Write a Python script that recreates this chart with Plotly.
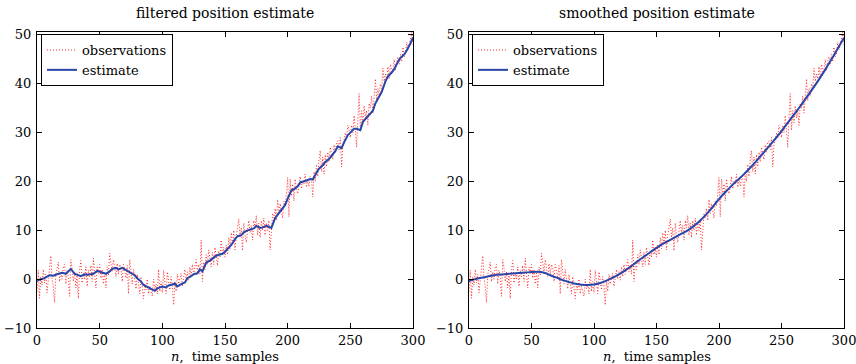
import plotly.graph_objects as go

# ---------------- data ----------------
obs = [
    -2.5, 1.8, -3.9, 0.5, -1.2, 2.0, -0.8, 1.0, -2.8, 0.3,
    2.5, 4.8, 0.2, -1.5, -4.8, 1.0, 2.0, 3.5, -0.5, 1.5,
    0.0, 2.5, 3.0, -1.0, 1.8, 0.5, -3.5, 4.0, 2.2, -0.5,
    1.5, -1.8, 0.8, -4.0, 2.0, 3.8, -0.8, 1.2, 0.0, 2.5,
    -1.5, 1.8, 0.5, 2.8, -0.5, 4.3, 1.0, -1.8, 2.5, 1.2,
    3.0, 0.2, 2.0, -1.0, 1.5, -1.8, 2.5, 0.8, 5.3, 3.5,
    1.5, 4.0, 2.5, 0.5, 3.2, 1.0, 3.0, 2.2, -0.5, 3.0,
    1.8, 0.2, 2.8, -3.0, 4.0, 1.5, -1.0, 2.0, 0.0, -2.0,
    1.0, -1.5, -3.0, 0.5, -2.5, -4.0, -1.0, -2.2, 0.0, -3.0,
    -1.5, -2.8, -3.5, 0.0, -2.0, -1.0, -3.0, 2.0, -2.5, -0.5,
    -2.8, 1.8, -1.2, -3.0, 1.5, -0.8, -2.2, 0.5, -1.5, -5.3,
    -0.5, -2.5, 1.0, -1.0, 0.2, 1.2, -1.5, 0.8, 2.0, 0.0,
    1.5, -0.2, 2.5, 0.5, 3.0, 1.0, 2.2, 4.0, 1.5, 3.0,
    1.0, 8.0, -0.5, 3.5, 2.0, 5.0, 3.0, 6.0, 4.2, 2.5,
    5.5, 3.0, 6.5, 4.0, 2.8, 5.8, 4.5, 8.0, 5.0, 6.5,
    4.5, 7.0, 5.0, 8.5, 6.2, 9.5, 7.0, 10.0, 6.0, 9.0,
    11.0, 12.3, 8.5, 10.5, 5.8, 11.5, 9.0, 7.5, 10.0, 12.0,
    9.5, 11.0, 8.0, 12.0, 10.5, 13.0, 9.0, 11.5, 8.5, 12.0,
    10.0, 12.5, 9.0, 11.5, 10.0, 12.0, 6.0, 11.0, 13.5, 12.5,
    14.5, 12.0, 16.3, 13.5, 15.5, 14.0, 12.5, 16.0, 15.0, 17.5,
    20.8, 12.8, 20.5, 17.0, 19.5, 16.0, 20.5, 18.5, 17.5, 19.0,
    21.0, 18.5, 20.0, 19.5, 21.5, 18.8, 20.5, 19.0, 21.0, 20.5,
    16.8, 22.0, 20.0, 23.5, 21.0, 24.5, 26.3, 22.0, 25.0, 21.5,
    25.5, 23.0, 26.0, 24.0, 27.0, 25.5, 24.5, 27.5, 26.0, 28.0,
    28.3, 26.5, 29.0, 23.0, 27.5, 28.5, 30.0, 29.0, 31.5, 30.5,
    29.0, 31.5, 30.0, 33.5, 31.0, 27.0, 33.0, 38.0, 30.5, 34.5,
    32.0, 35.5, 33.0, 34.5, 31.5, 36.0, 35.0, 37.5, 34.0, 38.0,
    41.0, 36.5, 39.0, 37.5, 40.0, 39.0, 43.2, 40.5, 42.0, 41.0,
    43.5, 41.0, 44.0, 42.5, 43.0, 45.0, 42.8, 44.5, 45.5, 44.0,
    46.0, 44.5, 47.5, 45.5, 46.0, 48.5, 47.0, 48.0, 49.5, 50.5, 48.0,
]
obs_n = list(range(len(obs)))

filt_n = [0, 3, 6, 10, 13, 16, 20, 23, 25, 27, 30, 33, 35, 38, 40, 43, 45, 48, 50, 53,
          55, 58, 60, 63, 65, 68, 70, 73, 75, 78, 80, 83, 85, 88, 90, 92, 94, 96, 98, 100,
          103, 105, 108, 110, 112, 115, 118, 120, 123, 125, 128, 130, 132, 135, 138, 140,
          143, 145, 148, 150, 153, 155, 158, 160, 163, 165, 168, 170, 173, 175, 178, 180,
          183, 185, 187, 190, 193, 195, 198, 200, 203, 205, 208, 210, 213, 215, 218, 220,
          223, 225, 228, 230, 233, 235, 238, 240, 243, 245, 248, 250, 253, 255, 258, 260,
          263, 265, 268, 270, 273, 275, 278, 280, 283, 285, 288, 290, 293, 295, 298, 300]
filt_v = [-0.3, -0.1, 0.2, 0.8, 0.7, 1.0, 1.3, 1.1, 1.6, 2.1, 1.1, 0.8, 0.6, 1.0, 0.9, 1.0, 1.1, 1.7, 1.5, 1.3,
          1.1, 1.6, 2.1, 2.3, 2.0, 2.3, 2.0, 1.5, 1.2, 0.8, 0.2, -0.5, -1.2, -1.6, -1.8, -2.0, -2.4, -1.9, -1.7, -1.5,
          -1.7, -1.3, -1.1, -0.9, -1.5, -1.0, -0.7, 0.2, 0.6, 1.0, 1.2, 2.0, 1.6, 3.4, 3.8, 4.2,
          4.8, 5.0, 5.2, 5.6, 6.5, 7.0, 8.2, 8.8, 9.0, 9.6, 10.0, 10.1, 10.4, 10.9, 10.5, 10.6,
          10.9, 10.7, 10.5, 12.5, 13.6, 14.2, 15.2, 16.5, 18.2, 18.4, 19.0, 19.8, 20.0, 20.2, 20.5, 20.4,
          21.8, 22.6, 23.3, 24.0, 24.6, 25.2, 26.2, 27.2, 26.8, 28.0, 29.5, 30.0, 30.8, 30.8, 30.5, 32.2,
          33.0, 33.6, 34.5, 36.0, 37.5, 38.3, 40.5, 41.5, 42.3, 43.0, 44.5, 45.3, 46.0, 46.8, 48.3, 49.5]

smooth_n = list(range(0, 301, 5))
smooth_v = [-0.4, 0.0, 0.3, 0.55, 0.8, 0.95, 1.05, 1.15, 1.25, 1.35, 1.45, 1.5, 1.3, 0.8, 0.3,
            -0.2, -0.6, -0.95, -1.15, -1.2, -1.1, -0.8, -0.3, 0.3, 1.0, 1.8, 2.7, 3.7, 4.6, 5.5,
            6.4, 7.2, 7.9, 8.6, 9.3, 10.0, 10.9, 12.0, 13.3, 14.8, 16.4, 17.8, 19.1, 20.3, 21.5,
            22.8, 24.2, 25.7, 27.2, 28.7, 30.3, 32.0, 33.7, 35.4, 37.2, 39.0, 40.9, 42.9, 45.0,
            47.2, 49.4]

titles = ["filtered position estimate", "smoothed position estimate"]
x_label = "<i>n</i>,  time samples"
x_ticks = [0, 50, 100, 150, 200, 250, 300]
y_ticks = [-10, 0, 10, 20, 30, 40, 50]

# ---------------- styling ----------------
W, H = 856, 364
FONT = "DejaVu Serif"
OBS_COLOR = "rgb(255,40,40)"
EST_COLOR = "rgb(40,70,170)"

def px_x(p):
    return p / W

def px_y(p):
    return 1 - p / H

left_dom = [px_x(37), px_x(413)]
right_dom = [px_x(469), px_x(844)]
y_dom = [px_y(328), px_y(31.5)]

fig = go.Figure()

for i, (est_n, est_v) in enumerate([(filt_n, filt_v), (smooth_n, smooth_v)]):
    xa = "x" if i == 0 else "x2"
    ya = "y" if i == 0 else "y2"
    lg = "legend" if i == 0 else "legend2"
    fig.add_trace(go.Scatter(
        x=obs_n, y=obs, mode="lines", name="observations",
        line=dict(color=OBS_COLOR, width=1, dash="1px,2px"),
        xaxis=xa, yaxis=ya, legend=lg))
    fig.add_trace(go.Scatter(
        x=est_n, y=est_v, mode="lines", name="estimate",
        line=dict(color=EST_COLOR, width=2,
                  shape="spline" if i == 1 else "linear"),
        xaxis=xa, yaxis=ya, legend=lg))

axis_common = dict(
    showline=True, linecolor="black", linewidth=1, mirror="allticks",
    ticks="inside", ticklen=5, tickcolor="black", showgrid=False, zeroline=False,
    automargin=False, ticklabeloverflow="allow",
    tickfont=dict(family=FONT, size=13, color="black"),
)

fig.update_layout(
    width=W, height=H,
    margin=dict(l=0, r=0, t=0, b=0, autoexpand=False),
    paper_bgcolor="white", plot_bgcolor="white",
    showlegend=True,
    xaxis=dict(domain=left_dom, range=[0, 300], tickvals=x_ticks, anchor="y",
               ticklabelstandoff=0, **axis_common),
    yaxis=dict(domain=y_dom, range=[-10, 50.7], tickvals=y_ticks, anchor="x",
               ticklabelstandoff=2, **axis_common),
    xaxis2=dict(domain=right_dom, range=[0, 300], tickvals=x_ticks, anchor="y2",
                ticklabelstandoff=0, **axis_common),
    yaxis2=dict(domain=y_dom, range=[-10, 50.7], tickvals=y_ticks, anchor="x2",
                ticklabelstandoff=2, **axis_common),
    legend=dict(x=px_x(41), y=px_y(34), xanchor="left", yanchor="top",
                bgcolor="white", bordercolor="black", borderwidth=1,
                font=dict(family=FONT, size=13, color="black"), tracegroupgap=0),
    legend2=dict(x=px_x(472), y=px_y(34), xanchor="left", yanchor="top",
                 bgcolor="white", bordercolor="black", borderwidth=1,
                 font=dict(family=FONT, size=13, color="black"), tracegroupgap=0),
)

for i, t in enumerate(titles):
    dom = left_dom if i == 0 else right_dom
    mid = (dom[0] + dom[1]) / 2
    fig.add_annotation(text=t, x=mid, y=px_y(13), xref="paper", yref="paper",
                       showarrow=False, xanchor="center", yanchor="middle",
                       font=dict(family=FONT, size=14, color="black"))
    fig.add_annotation(text=x_label, x=mid, y=0, xref="paper", yref="paper",
                       showarrow=False, xanchor="center", yanchor="bottom", yshift=-1,
                       borderpad=0, font=dict(family=FONT, size=13, color="black"))

fig.write_html("out.html")
